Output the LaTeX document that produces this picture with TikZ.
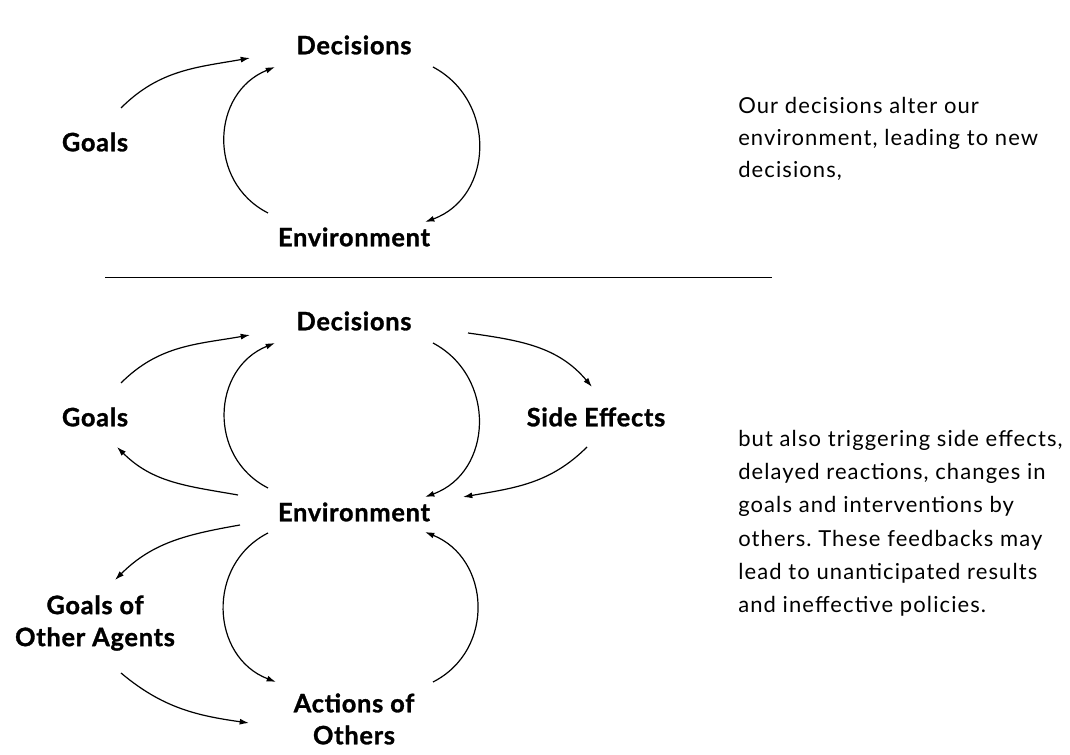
\documentclass[tikz,border=0pt]{standalone}
\usepackage{fontspec}
\setmainfont{Lato}
\usetikzlibrary{arrows.meta}
\frenchspacing
\begin{document}
\begin{tikzpicture}[x=0.75pt, y=0.75pt,
  lab/.style={font=\bfseries\addfontfeature{FakeBold=1.2,LetterSpace=3}\fontsize{19}{24}\selectfont, align=center, inner sep=0pt},
  note/.style={font=\addfontfeature{LetterSpace=5}\fontsize{16.5}{#1}\selectfont, align=left, anchor=north west, inner sep=0pt},
  note/.default=24,
  arr/.style={line width=0.9pt, -{Latex[length=7pt,width=4.5pt]}},
  loop/.style={arr, looseness=1.2}
]
\useasboundingbox (0,0) rectangle (1070,755);

% simple loop
\node[lab] (d1) at (354,710) {Decisions};
\node[lab] (g1) at (95,613) {Goals};
\node[lab] (e1) at (354,518) {Environment};

\draw[arr] ([shift={(26,34)}]g1.center) to[out=45,in=190] ([shift={(-104,-13)}]d1.center);
\draw[loop] ([shift={(-86,24)}]e1.center) to[out=153,in=202] ([shift={(-79,-22)}]d1.center);
\draw[loop] ([shift={(79,-22)}]d1.center) to[out=-28,in=20] ([shift={(71,15)}]e1.center);

\draw[line width=0.7pt] (105,478) -- (772,478);

% loop with side effects and other agents
\node[lab] (d2) at (354,434) {Decisions};
\node[lab] (g2) at (95,338) {Goals};
\node[lab] (s2) at (596,338) {Side Effects};
\node[lab] (e2) at (354,243) {Environment};
\node[lab] (o2) at (95,132) {Goals of\\Other Agents};
\node[lab] (a2) at (354,36) {Actions of\\Others};

\draw[arr] ([shift={(26,34)}]g2.center) to[out=45,in=190] ([shift={(-104,-14)}]d2.center);
\draw[loop] ([shift={(-86,24)}]e2.center) to[out=153,in=202] ([shift={(-79,-22)}]d2.center);
\draw[loop] ([shift={(79,-22)}]d2.center) to[out=-28,in=20] ([shift={(71,15)}]e2.center);
\draw[arr] ([shift={(114,-12)}]d2.center) to[out=-8,in=130] ([shift={(-4,30)}]s2.center);
\draw[arr] ([shift={(-9,-30)}]s2.center) to[out=225,in=10] ([shift={(109,15)}]e2.center);
\draw[arr] ([shift={(-116,17)}]e2.center) to[out=170,in=-45] ([shift={(22,-30)}]g2.center);
\draw[arr] ([shift={(-114,-13)}]e2.center) to[out=190,in=45] ([shift={(20,43)}]o2.center);
\draw[loop] ([shift={(-86,-21)}]e2.center) to[out=207,in=159] ([shift={(-78,37)}]a2.center);
\draw[loop] ([shift={(79,37)}]a2.center) to[out=27,in=-22] ([shift={(71,-20)}]e2.center);
\draw[arr] ([shift={(26,-50)}]o2.center) to[out=-40,in=172] ([shift={(-105,-4)}]a2.center);

% notes
\node[note] (n1) at (738,658) {Our decisions alter our\\environment, leading to new\\decisions,};
\node[note=24.9] (n2) at (738,325) {but also triggering side effects,\\delayed reactions, changes in\\goals and interventions by\\others. These feedbacks may\\lead to unanticipated results\\and ineffective policies.};
\end{tikzpicture}
\end{document}
